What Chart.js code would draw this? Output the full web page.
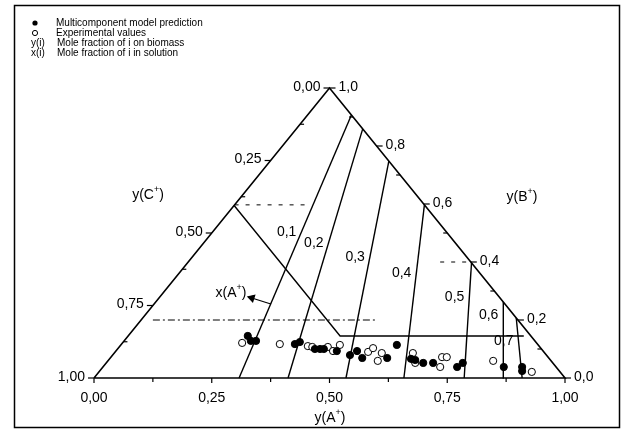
<!DOCTYPE html>
<html>
<head>
<meta charset="utf-8">
<script src="https://cdn.jsdelivr.net/npm/chart.js@4/dist/chart.umd.min.js"></script>
<style>
  body { margin: 0; background: #fff; }
  canvas { display: block; }
</style>
</head>
<body>
<canvas id="ternary" width="625" height="430"></canvas>
<script>
// compositions are given as y(A+), y(B+); y(C+) = 1 - a - b
const bottomTicks = [0, 0.25, 0.5, 0.75, 1];      // y(A+)
const bottomMinor = [0.125, 0.375, 0.625, 0.875];
const leftTicks = [0, 0.25, 0.5, 0.75, 1];        // y(C+)
const leftMinor = [0.125, 0.375, 0.625, 0.875];
const rightTicks = [0, 0.2, 0.4, 0.6, 0.8, 1];    // y(B+)
const rightMinor = [0.1, 0.3, 0.5, 0.7, 0.9];

// x(A+) isolines: y(A+) on the base, y(B+) on the right side
const isoValues = [0.1, 0.2, 0.3, 0.4, 0.5, 0.6, 0.7];
const isoBaseA = [0.308, 0.412, 0.535, 0.658, 0.786, 0.870, 0.909];
const isoSideB = [0.907, 0.859, 0.748, 0.597, 0.397, 0.262, 0.207];
const isoLabelB = [0.503, 0.466, 0.417, 0.362, 0.279, 0.217, 0.128];

// multicomponent model prediction
const modelA = [0.254, 0.269, 0.280, 0.368, 0.375, 0.419, 0.430, 0.438, 0.469, 0.504, 0.512, 0.535,
                0.588, 0.586, 0.640, 0.651, 0.673, 0.694, 0.752, 0.757, 0.851, 0.890, 0.897];
const modelB = [0.145, 0.128, 0.128, 0.117, 0.124, 0.100, 0.100, 0.100, 0.093, 0.079, 0.093, 0.069,
                0.069, 0.114, 0.066, 0.062, 0.052, 0.052, 0.038, 0.052, 0.038, 0.038, 0.024];

// experimental values
const expA = [0.254, 0.336, 0.399, 0.410, 0.443, 0.461, 0.465, 0.537, 0.541, 0.568, 0.573, 0.634,
              0.656, 0.703, 0.716, 0.713, 0.818, 0.919];
const expB = [0.121, 0.117, 0.110, 0.107, 0.107, 0.093, 0.114, 0.090, 0.103, 0.086, 0.059, 0.086,
              0.052, 0.072, 0.038, 0.072, 0.059, 0.021];

// construction lines
const guideA = [0, 0.45, 0.84];
const guideB = [0.595, 0.145, 0.145];
const dashA = [[0, 0.16], [0.535, 0.6]];
const dashB = [0.597, 0.4];
const dashDotA = [0.025, 0.501];
const dashDotB = 0.2;
const arrowA = [0.197, 0.248];
const arrowB = [0.276, 0.255];

const toXY = (a, b) => ({ x: a + b / 2, y: b });
const fmt = (v, d) => v.toFixed(d).replace('.', ',');

function lineSet(points, extra) {
    return Object.assign({
        data: points, showLine: true, pointRadius: 0, borderColor: '#000',
        borderWidth: 1.4, fill: false, clip: false, order: 3
    }, extra);
}

const datasets = [];
datasets.push({
    label: 'Multicomponent model prediction',
    data: modelA.map((a, i) => toXY(a, modelB[i])),
    pointRadius: 3.6, pointBackgroundColor: '#000', pointBorderColor: '#000',
    showLine: false, clip: false, order: 0
});
datasets.push({
    label: 'Experimental values',
    data: expA.map((a, i) => toXY(a, expB[i])),
    pointRadius: 3.6, pointBackgroundColor: '#fff', pointBorderColor: '#000', pointBorderWidth: 1,
    showLine: false, clip: false, order: 1
});
datasets.push(lineSet([toXY(0, 0), toXY(1, 0), toXY(0, 1), toXY(0, 0)], { borderWidth: 1.6 }));
isoValues.forEach((v, i) => {
    datasets.push(lineSet([toXY(isoBaseA[i], 0), toXY(1 - isoSideB[i], isoSideB[i])]));
});
datasets.push(lineSet(guideA.map((a, i) => toXY(a, guideB[i]))));
dashA.forEach((seg, i) => {
    datasets.push(lineSet(seg.map(a => toXY(a, dashB[i])), { borderWidth: 1, borderDash: [4, 7] }));
});
datasets.push(lineSet(dashDotA.map(a => toXY(a, dashDotB)), { borderWidth: 1, borderDash: [7, 3, 2, 3] }));
datasets.push(lineSet(arrowA.map((a, i) => toXY(a, arrowB[i])), {
    borderWidth: 1.2, pointRadius: [4, 0], pointStyle: 'triangle', rotation: 287,
    pointBackgroundColor: '#000', pointBorderColor: '#000'
}));

function supText(ctx, base, sup, rest, x, y, size) {
    const mainFont = size + 'px "Liberation Sans", Arial, sans-serif';
    const supFont = Math.round(size * 0.62) + 'px "Liberation Sans", Arial, sans-serif';
    ctx.font = mainFont;
    const w1 = ctx.measureText(base).width;
    const w3 = ctx.measureText(rest).width;
    ctx.font = supFont;
    const w2 = ctx.measureText(sup).width;
    let sx = x - (w1 + w2 + w3) / 2;
    ctx.textAlign = 'left';
    ctx.textBaseline = 'middle';
    ctx.font = mainFont;
    ctx.fillText(base, sx, y);
    ctx.font = supFont;
    ctx.fillText(sup, sx + w1, y - size * 0.42);
    ctx.font = mainFont;
    ctx.fillText(rest, sx + w1 + w2, y);
}

const ternaryDecor = {
    id: 'ternaryDecor',
    beforeDraw(chart) {
        const ctx = chart.ctx;
        ctx.save();
        ctx.fillStyle = '#fff';
        ctx.fillRect(0, 0, chart.width, chart.height);
        ctx.restore();
    },
    afterDraw(chart) {
        const ctx = chart.ctx;
        const sx = chart.scales.x, sy = chart.scales.y;
        const px = (a, b) => {
            const p = toXY(a, b);
            return { x: sx.getPixelForValue(p.x), y: sy.getPixelForValue(p.y) };
        };
        ctx.save();
        ctx.strokeStyle = '#000';
        ctx.fillStyle = '#000';

        // frame
        ctx.lineWidth = 1.5;
        ctx.strokeRect(14.5, 5.5, 605, 422);

        ctx.lineWidth = 1.2;
        const seg = (x1, y1, x2, y2) => { ctx.beginPath(); ctx.moveTo(x1, y1); ctx.lineTo(x2, y2); ctx.stroke(); };
        ctx.font = '14px "Liberation Sans", Arial, sans-serif';
        ctx.textBaseline = 'middle';

        // base: y(A+)
        ctx.textAlign = 'center';
        bottomTicks.forEach(t => {
            const p = px(t, 0);
            seg(p.x, p.y, p.x, p.y + 5);
            ctx.fillText(fmt(t, 2), p.x, p.y + 20);
        });
        bottomMinor.forEach(t => { const p = px(t, 0); seg(p.x, p.y, p.x, p.y + 4); });

        // left side: y(C+)
        ctx.textAlign = 'right';
        leftTicks.forEach(c => {
            const p = px(0, 1 - c);
            seg(p.x - 6, p.y, p.x, p.y);
            ctx.fillText(fmt(c, 2), p.x - 9, p.y - 1);
        });
        leftMinor.forEach(c => { const p = px(0, 1 - c); seg(p.x, p.y, p.x + 4, p.y); });

        // right side: y(B+)
        ctx.textAlign = 'left';
        rightTicks.forEach(b => {
            const p = px(1 - b, b);
            seg(p.x, p.y, p.x + 6, p.y);
            ctx.fillText(fmt(b, 1), p.x + 9, p.y - 1);
        });
        rightMinor.forEach(b => { const p = px(1 - b, b); seg(p.x - 4, p.y, p.x, p.y); });

        // isoline labels
        ctx.textAlign = 'right';
        isoValues.forEach((v, i) => {
            const p0 = px(isoBaseA[i], 0), p1 = px(1 - isoSideB[i], isoSideB[i]);
            const y = sy.getPixelForValue(isoLabelB[i]);
            const x = p0.x + (p1.x - p0.x) * (y - p0.y) / (p1.y - p0.y);
            ctx.fillText(fmt(v, 1), x - 5, y);
        });

        // axis titles
        supText(ctx, 'y(A', '+', ')', 330, 418, 14);
        supText(ctx, 'y(C', '+', ')', 148, 195, 14);
        supText(ctx, 'y(B', '+', ')', 522, 197, 14);
        supText(ctx, 'x(A', '+', ')', 231, 293, 14);

        // legend
        ctx.font = '10px "Liberation Sans", Arial, sans-serif';
        ctx.textAlign = 'left';
        ctx.beginPath(); ctx.arc(35, 23, 2.6, 0, Math.PI * 2); ctx.fill();
        ctx.fillText('Multicomponent model prediction', 56, 23);
        ctx.lineWidth = 1;
        ctx.beginPath(); ctx.arc(35, 33, 2.6, 0, Math.PI * 2); ctx.stroke();
        ctx.fillText('Experimental values', 56, 33);
        ctx.fillText('y(i)', 31, 43);
        ctx.fillText('Mole fraction of i on biomass', 57, 43);
        ctx.fillText('x(i)', 31, 53);
        ctx.fillText('Mole fraction of i in solution', 57, 53);
        ctx.restore();
    }
};

new Chart(document.getElementById('ternary'), {
    type: 'scatter',
    data: { datasets: datasets },
    options: {
        responsive: false,
        animation: false,
        layout: { padding: { left: 94, right: 60, top: 88, bottom: 52 } },
        scales: {
            x: { type: 'linear', min: 0, max: 1, display: false },
            y: { type: 'linear', min: 0, max: 1, display: false }
        },
        plugins: { legend: { display: false }, tooltip: { enabled: false } }
    },
    plugins: [ternaryDecor]
});
</script>
</body>
</html>
